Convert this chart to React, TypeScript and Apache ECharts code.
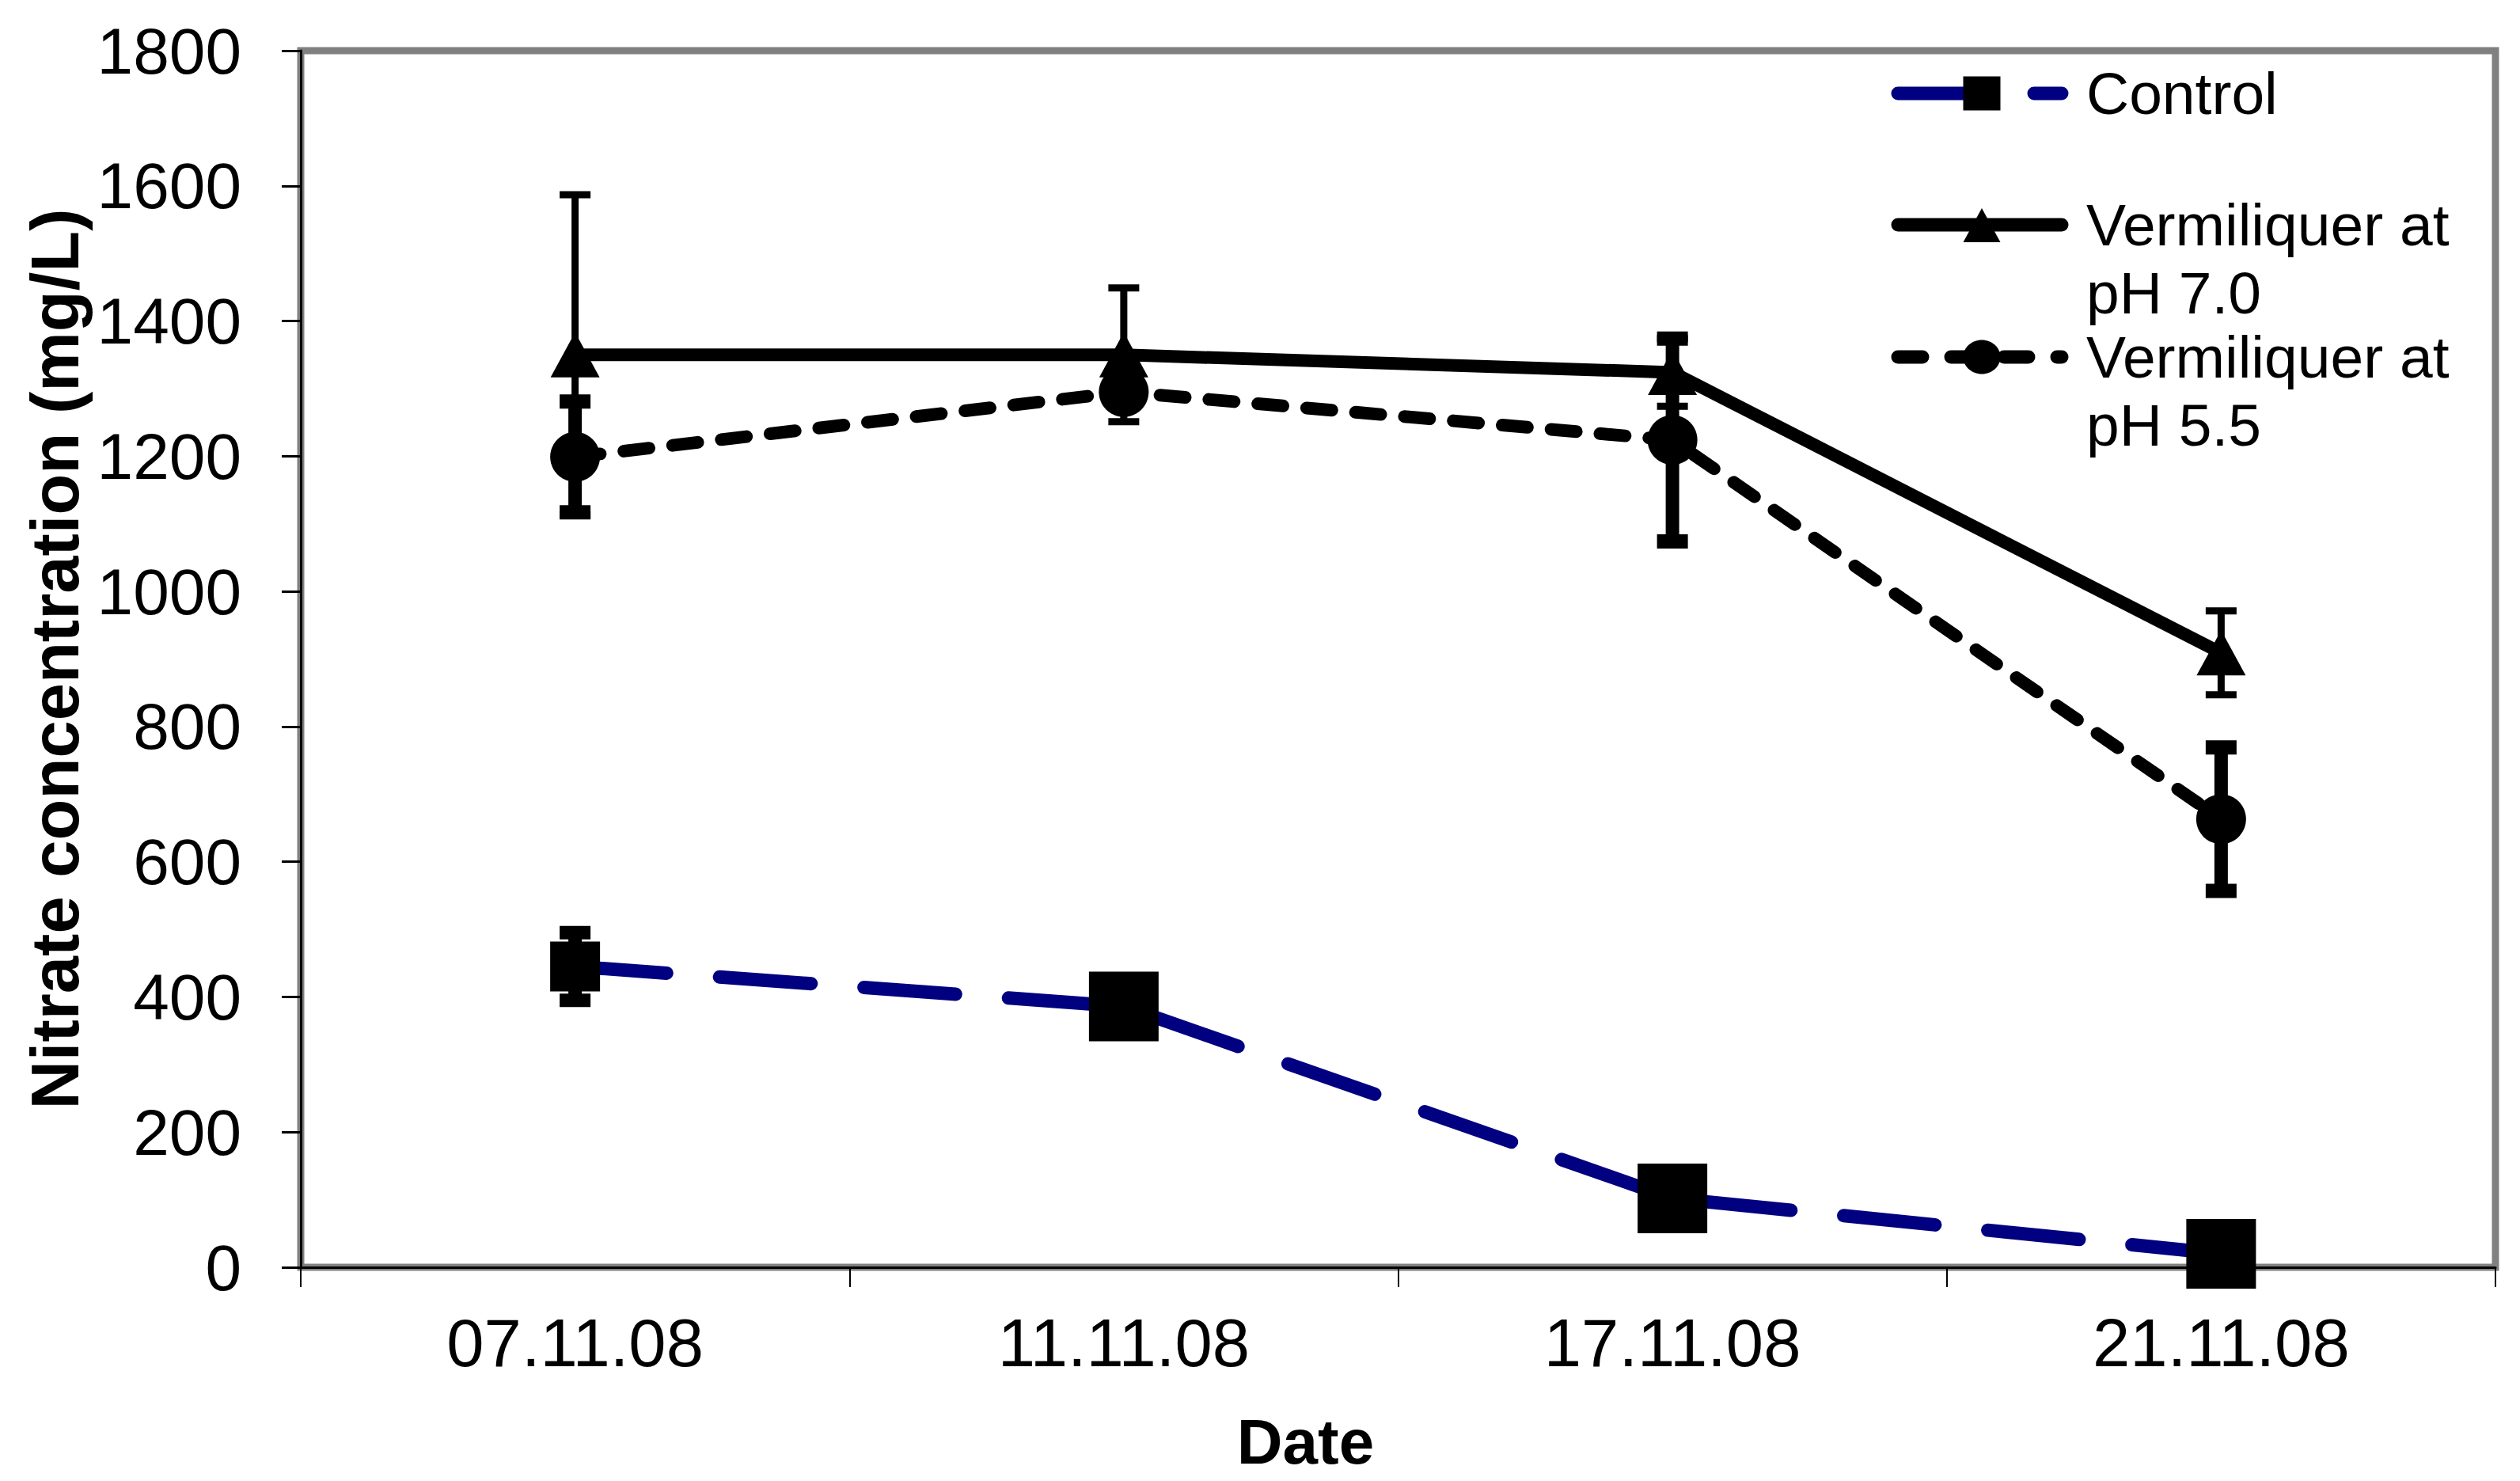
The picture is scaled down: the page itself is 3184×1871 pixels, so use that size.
import React, { useEffect, useRef } from "react";
import * as echarts from "echarts";

const categories = ["07.11.08", "11.11.08", "17.11.08", "21.11.08"];
const controlValues = [445, 386, 102, 20];
const controlErrors = [50, 0, 0, 0];
const ph70Values = [1350, 1350, 1324, 909];
const ph70Errors = [237, 99, 50, 62];
const ph55Values = [1199, 1295, 1224, 663];
const ph55Errors = [82, 0, 150, 106];
const yMin = 0;
const yMax = 1800;
const yInterval = 200;

const FONT = "'Liberation Sans', Arial, sans-serif";

function errorSeries(name: string, values: number[], errors: number[], stemWidth: number, capH: number) {
  return {
    type: "custom",
    name: name + " error",
    z: 1,
    silent: true,
    data: values.map((v, i) => [i, v, errors[i]]),
    encode: { x: 0, y: 1 },
    renderItem: (params: any, api: any) => {
      const i = api.value(0);
      const v = api.value(1);
      const e = api.value(2);
      if (!e) return { type: "group", children: [] };
      const top = api.coord([i, v + e]);
      const bot = api.coord([i, v - e]);
      const capW = 39;
      return {
        type: "group",
        children: [
          {
            type: "line",
            shape: { x1: top[0], y1: top[1], x2: bot[0], y2: bot[1] },
            style: { stroke: "#000", lineWidth: stemWidth },
          },
          {
            type: "rect",
            shape: { x: top[0] - capW / 2, y: top[1] - capH / 2, width: capW, height: capH },
            style: { fill: "#000" },
          },
          {
            type: "rect",
            shape: { x: bot[0] - capW / 2, y: bot[1] - capH / 2, width: capW, height: capH },
            style: { fill: "#000" },
          },
        ],
      };
    },
  };
}

export default function App() {
  const ref = useRef<HTMLDivElement>(null);
  useEffect(() => {
    document.body.style.margin = "0";
    const chart = echarts.init(ref.current!, null, { renderer: "svg" });
    const legendText = { fontFamily: FONT, fontSize: 75, fill: "#000", verticalAlign: "middle", align: "left" };
    const yC = 118;
    const y7 = 284;
    const y5 = 451;
    chart.setOption({
      animation: false,
      backgroundColor: "#fff",
      grid: {
        left: 380,
        right: 31,
        top: 64,
        bottom: 270,
        show: true,
        borderColor: "#808080",
        borderWidth: 9,
        backgroundColor: "transparent",
      },
      xAxis: {
        type: "category",
        data: categories,
        boundaryGap: true,
        name: "Date",
        nameLocation: "middle",
        nameGap: 180,
        nameTextStyle: {
          fontFamily: FONT,
          fontSize: 80,
          fontWeight: "bold",
          color: "#000",
          padding: [0, 234, 0, 0],
        },
        axisLine: { show: true, lineStyle: { color: "#000", width: 3 } },
        axisTick: { show: true, alignWithLabel: false, length: 25, lineStyle: { color: "#000", width: 2 } },
        axisLabel: { fontFamily: FONT, fontSize: 85, color: "#000", margin: 53 },
        splitLine: { show: false },
      },
      yAxis: {
        type: "value",
        min: yMin,
        max: yMax,
        interval: yInterval,
        name: "Nitrate concentration (mg/L)",
        nameLocation: "middle",
        nameGap: 262,
        nameTextStyle: { fontFamily: FONT, fontSize: 85, fontWeight: "bold", color: "#000" },
        axisLine: { show: true, lineStyle: { color: "#000", width: 3 } },
        axisTick: { show: true, inside: false, length: 24, lineStyle: { color: "#000", width: 3 } },
        axisLabel: {
          fontFamily: FONT,
          fontSize: 82,
          color: "#000",
          margin: 75,
          formatter: (v: number) => String(v),
        },
        splitLine: { show: false },
      },
      series: [
        errorSeries("Control", controlValues, controlErrors, 17, 17),
        errorSeries("Vermiliquer at pH 7.0", ph70Values, ph70Errors, 9, 9),
        errorSeries("Vermiliquer at pH 5.5", ph55Values, ph55Errors, 17, 18),
        {
          type: "line",
          name: "Control",
          data: controlValues,
          z: 3,
          symbol: "rect",
          symbolSize: (val: any, params: any) => (params.dataIndex === 0 ? 63 : 88),
          itemStyle: { color: "#000" },
          lineStyle: { color: "#000080", width: 17, type: [116, 67], cap: "round" },
        },
        {
          type: "line",
          name: "Vermiliquer at pH 7.0",
          data: ph70Values,
          z: 3,
          symbol: "triangle",
          symbolSize: [62, 57],
          itemStyle: { color: "#000" },
          lineStyle: { color: "#000", width: 16, type: "solid" },
        },
        {
          type: "line",
          name: "Vermiliquer at pH 5.5",
          data: ph55Values,
          z: 3,
          symbol: "circle",
          symbolSize: 63,
          itemStyle: { color: "#000" },
          lineStyle: { color: "#000", width: 16, type: [32, 30], cap: "round" },
        },
      ],
      graphic: [
        {
          type: "group",
          children: [
            {
              type: "line",
              shape: { x1: 2398, y1: yC, x2: 2605, y2: yC },
              style: { stroke: "#000080", lineWidth: 17, lineDash: [120, 52], lineCap: "round" },
            },
            {
              type: "rect",
              shape: { x: 2504 - 23.5, y: yC - 21.5, width: 47, height: 43 },
              style: { fill: "#000" },
            },
            { type: "text", x: 2636, y: yC, style: { ...legendText, text: "Control" } },
            {
              type: "line",
              shape: { x1: 2398, y1: y7, x2: 2605, y2: y7 },
              style: { stroke: "#000", lineWidth: 17, lineCap: "round" },
            },
            {
              type: "polygon",
              shape: { points: [[2504, y7 - 21], [2480.5, y7 + 22], [2527.5, y7 + 22]] },
              style: { fill: "#000" },
            },
            { type: "text", x: 2636, y: y7, style: { ...legendText, text: "Vermiliquer at" } },
            { type: "text", x: 2636, y: y7 + 86, style: { ...legendText, text: "pH 7.0" } },
            {
              type: "line",
              shape: { x1: 2398, y1: y5, x2: 2605, y2: y5 },
              style: { stroke: "#000", lineWidth: 17, lineDash: [31, 36], lineCap: "round" },
            },
            {
              type: "ellipse",
              shape: { cx: 2504, cy: y5, rx: 23.5, ry: 21.5 },
              style: { fill: "#000" },
            },
            { type: "text", x: 2636, y: y5, style: { ...legendText, text: "Vermiliquer at" } },
            { type: "text", x: 2636, y: y5 + 86, style: { ...legendText, text: "pH 5.5" } },
          ],
        },
      ],
    });
    return () => chart.dispose();
  }, []);
  return <div ref={ref} style={{ width: 3184, height: 1871 }} />;
}
